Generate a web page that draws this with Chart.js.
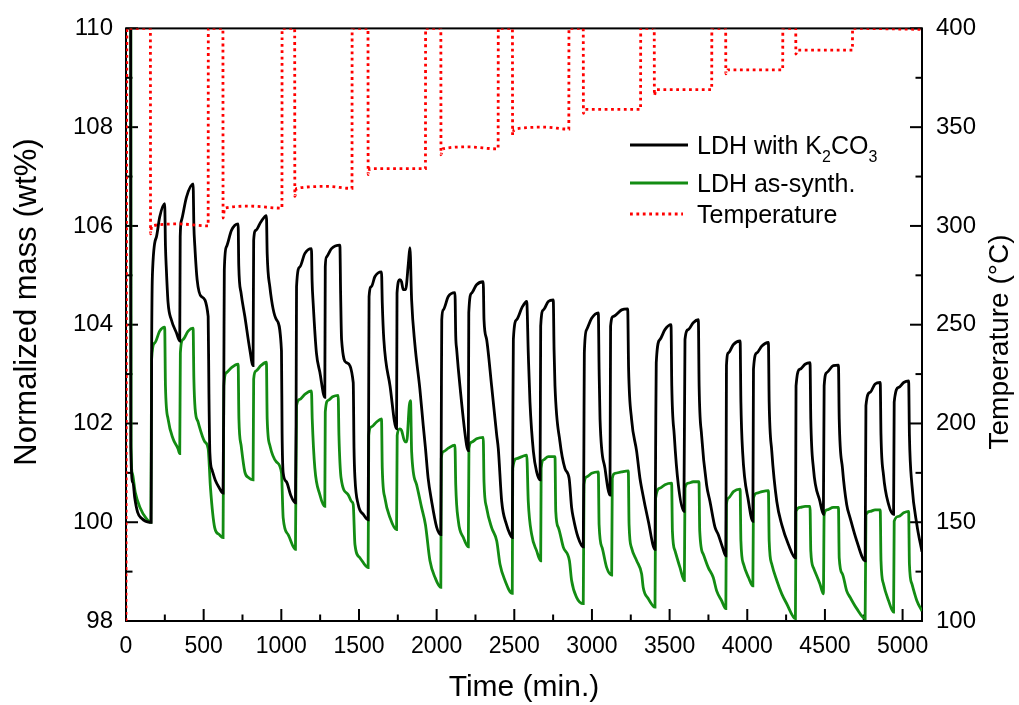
<!DOCTYPE html>
<html>
<head>
<meta charset="utf-8">
<title>LDH cycling - normalized mass and temperature</title>
<script src="https://cdn.jsdelivr.net/npm/chart.js@4.4.1/dist/chart.umd.min.js"></script>
<style>
  html, body { margin: 0; padding: 0; background: #fff; }
  canvas { display: block; }
</style>
</head>
<body>
<canvas id="tga" width="1019" height="705"></canvas>
<script>
// values: [time (min), value]
const k2co3Mass = [
  [30,112],[31,101.5],[45,100.8],[56,100.5],[75,100.2],[100,100.08],[150,100.0],[162,100.0],
  [165,103.4],[170,105.0],[196,105.78],[217,106.18],[249,106.45],
  [254,105.6],[260,105.11],[271,104.44],[292,104.10],[324,103.84],[346,103.67],
  [349,105.78],[357,106.11],[389,106.58],[432,106.85],
  [437,106.0],[443,105.6],[458,104.91],[485,104.57],[529,104.17],
  [534,102.6],[540,101.4],[555,101.05],[575,100.85],[600,100.7],[625,100.59],
  [630,103.0],[633,105.11],[647,105.58],[679,105.91],[722,106.04],
  [726,105.2],[741,104.64],[765,104.17],[797,103.50],[818,103.17],
  [822,105.71],[836,105.91],[868,106.08],[904,106.21],
  [909,105.44],[926,104.77],[969,104.10],[1001,103.47],
  [1005,101.8],[1012,101.0],[1033,100.82],[1060,100.55],[1091,100.39],
  [1095,102.0],[1098,104.77],[1119,105.17],[1151,105.44],[1194,105.54],
  [1198,104.9],[1205,104.44],[1226,103.43],[1248,103.04],[1280,102.53],
  [1283,105.17],[1291,105.37],[1323,105.54],[1377,105.61],
  [1382,104.6],[1388,103.70],[1420,103.23],[1463,102.83],
  [1468,101.5],[1474,100.9],[1495,100.36],[1530,100.15],[1559,100.05],
  [1562,102.0],[1565,104.57],[1580,104.77],[1602,104.97],[1645,105.07],
  [1650,104.44],[1660,103.70],[1700,102.76],[1742,101.89],
  [1745,104.64],[1763,104.91],[1774,104.87],[1785,104.71],[1800,104.71],[1818,105.24],[1828,105.56],
  [1839,104.5],[1860,103.6],[1892,102.7],[1914,101.95],[1928,101.5],[1945,100.9],[1968,100.42],[2000,99.9],[2027,99.75],
  [2030,102.0],[2033,104.10],[2043,104.30],[2075,104.57],[2118,104.65],
  [2123,103.77],[2129,103.5],[2150,102.76],[2193,101.56],[2204,101.45],
  [2207,104.24],[2225,104.64],[2257,104.81],[2300,104.87],
  [2305,104.1],[2322,103.7],[2354,102.76],[2387,101.76],[2397,101.49],[2419,100.42],[2450,99.95],[2472,99.76],[2487,99.69],
  [2490,101.5],[2494,103.70],[2515,104.10],[2550,104.35],[2580,104.47],
  [2590,103.43],[2601,102.43],[2623,101.43],[2644,101.02],[2666,100.86],
  [2670,103.97],[2687,104.30],[2719,104.47],[2751,104.50],
  [2756,103.5],[2762,102.76],[2794,101.63],[2826,101.09],[2853,100.89],[2869,100.3],[2880,100.09],[2910,99.7],[2944,99.5],
  [2948,101.5],[2951,103.43],[2966,103.90],[2998,104.13],[3041,104.24],
  [3046,103.10],[3052,102.09],[3084,101.09],[3116,100.55],
  [3120,103.97],[3138,104.17],[3191,104.30],[3230,104.32],
  [3236,103.10],[3255,102.09],[3288,101.43],[3309,100.89],[3320,100.69],[3363,100.02],[3406,99.45],
  [3410,101.5],[3414,103.23],[3438,103.70],[3470,103.90],[3509,104.00],
  [3514,102.76],[3530,101.76],[3556,100.76],[3592,100.22],
  [3599,103.70],[3620,103.90],[3652,104.04],[3685,104.10],
  [3690,102.76],[3706,101.76],[3738,100.76],[3760,100.42],[3792,99.9],[3813,99.75],[3840,99.5],[3862,99.32],
  [3866,103.17],[3879,103.43],[3911,103.60],[3954,103.67],
  [3959,102.43],[3970,101.43],[4008,100.42],[4036,100.02],
  [4040,103.10],[4062,103.43],[4094,103.57],[4136,103.64],
  [4141,102.43],[4158,101.43],[4190,100.42],[4222,99.95],[4265,99.55],[4310,99.28],
  [4314,102.76],[4340,103.10],[4372,103.20],[4404,103.23],
  [4409,102.09],[4426,101.09],[4468,100.42],[4490,100.16],
  [4495,102.76],[4512,103.03],[4554,103.17],[4587,103.18],
  [4592,102.09],[4613,101.09],[4640,100.36],[4662,100.09],[4705,99.62],[4759,99.22],
  [4764,102.36],[4790,102.63],[4823,102.80],[4856,102.83],
  [4861,101.76],[4877,100.96],[4910,100.36],[4942,100.16],
  [4946,102.43],[4975,102.73],[5007,102.83],[5039,102.86],
  [5044,101.76],[5060,100.76],[5092,99.95],[5125,99.4]
];

const asSynthMass = [
  [31,111],[33,101.6],[40,101.0],[60,100.6],[90,100.3],[130,100.08],[160,100.0],
  [165,103.3],[185,103.63],[217,103.87],[249,103.95],
  [254,102.76],[271,102.09],[303,101.69],[335,101.49],[346,101.39],
  [350,103.43],[367,103.70],[400,103.87],[432,103.93],
  [437,102.9],[445,102.3],[464,102.03],[507,101.63],[529,101.49],[544,100.69],[571,99.89],[600,99.75],[625,99.69],
  [630,102.76],[647,103.03],[679,103.13],[722,103.20],
  [727,102.09],[741,101.56],[765,101.02],[790,100.9],[818,100.86],
  [822,102.90],[836,103.06],[868,103.17],[904,103.24],
  [909,102.09],[926,101.56],[969,101.22],[1001,101.0],[1012,100.09],[1044,99.75],[1091,99.45],
  [1098,102.36],[1119,102.49],[1151,102.59],[1194,102.66],
  [1199,102.09],[1216,101.09],[1248,100.56],[1280,100.32],
  [1283,102.23],[1302,102.47],[1330,102.54],[1366,102.57],
  [1371,101.76],[1385,100.89],[1430,100.56],[1452,100.42],[1463,100.36],[1474,99.55],[1506,99.28],[1559,99.08],
  [1563,101.76],[1580,101.93],[1613,102.03],[1645,102.09],
  [1650,101.09],[1667,100.49],[1700,100.09],[1742,99.85],
  [1746,101.76],[1763,101.89],[1774,101.86],[1796,101.63],[1807,101.63],[1824,102.36],[1832,102.46],
  [1839,101.43],[1871,100.76],[1903,100.3],[1928,99.95],[1957,99.22],[1990,98.88],[2027,98.68],
  [2030,101.29],[2043,101.43],[2075,101.5],[2118,101.56],
  [2123,100.76],[2140,100.02],[2172,99.69],[2204,99.5],
  [2208,101.49],[2225,101.62],[2257,101.69],[2300,101.72],
  [2305,100.82],[2322,100.29],[2354,99.89],[2387,99.62],[2408,99.15],[2440,98.82],[2487,98.56],
  [2490,101.09],[2515,101.29],[2550,101.33],[2580,101.36],
  [2590,100.42],[2612,99.75],[2644,99.42],[2670,99.22],
  [2673,101.09],[2687,101.26],[2719,101.33],[2762,101.33],
  [2767,100.22],[2784,99.89],[2816,99.49],[2855,99.22],[2869,98.82],[2901,98.48],[2944,98.35],
  [2949,100.76],[2966,100.92],[2998,100.99],[3041,101.02],
  [3046,99.95],[3066,99.48],[3095,99.08],[3127,98.93],
  [3131,100.89],[3148,100.99],[3191,101.02],[3234,101.04],
  [3239,99.95],[3255,99.48],[3288,99.22],[3320,98.95],[3330,98.68],[3363,98.45],[3406,98.28],
  [3410,100.49],[3438,100.69],[3470,100.76],[3513,100.79],
  [3518,99.82],[3535,99.42],[3567,99.08],[3595,98.82],
  [3599,100.69],[3620,100.79],[3652,100.82],[3689,100.82],
  [3694,99.82],[3717,99.35],[3749,99.08],[3781,98.88],[3803,98.61],[3835,98.41],[3862,98.25],
  [3866,100.35],[3879,100.49],[3911,100.62],[3954,100.67],
  [3959,99.62],[3976,99.15],[4008,98.88],[4036,98.71],
  [4040,100.49],[4062,100.59],[4094,100.62],[4136,100.64],
  [4141,99.62],[4158,99.15],[4190,98.82],[4222,98.55],[4254,98.35],[4310,98.05],
  [4314,100.22],[4340,100.3],[4372,100.32],[4404,100.32],
  [4409,99.42],[4426,99.08],[4468,98.75],[4490,98.55],
  [4495,100.15],[4512,100.25],[4554,100.3],[4587,100.3],
  [4592,99.28],[4613,98.95],[4640,98.61],[4662,98.48],[4705,98.25],[4759,98.05],
  [4764,100.15],[4790,100.22],[4823,100.25],[4856,100.25],
  [4861,99.22],[4877,98.75],[4910,98.41],[4942,98.18],
  [4946,100.02],[4975,100.12],[5007,100.19],[5039,100.22],
  [5044,99.15],[5060,98.75],[5092,98.41],[5125,98.2]
];

const temperature = [
  [0,100],[6,400],[157,400],[158,296],[165,300],[340,301],[529,300],[530,400],
  [624,400],[625,304],[635,309],[800,310],[1004,309],[1005,400],
  [1086,400],[1087,315],[1097,319],[1300,320],[1455,319],[1456,400],
  [1558,400],[1559,326],[1569,329],[1928,329],[1929,400],
  [2027,400],[2028,336],[2038,339],[2200,340],[2396,339],[2397,400],
  [2488,400],[2489,346],[2499,349],[2700,350],[2851,349],[2852,400],
  [2944,400],[2945,357],[2955,359],[3313,359],[3314,400],
  [3401,400],[3402,366],[3412,369],[3771,369],[3772,400],
  [3861,400],[3862,377],[3872,379],[4228,379],[4229,400],
  [4312,400],[4313,387],[4323,389],[4677,389],[4678,400],[5125,399.5]
];

// axis tick labels
const timeTicks = [0, 500, 1000, 1500, 2000, 2500, 3000, 3500, 4000, 4500, 5000];
const massTicks = [98, 100, 102, 104, 106, 108, 110];
const tempTicks = [100, 150, 200, 250, 300, 350, 400];

const timeRange = { min: 0, max: 5125, minor: 250 };
const massRange = { min: 98, max: 110, minor: 1 };
const tempRange = { min: 100, max: 400, minor: 25 };

const GREEN = '#138c13';
const RED = '#ff0000';
const FONT = '"Liberation Sans", Arial, sans-serif';

const toXY = pts => pts.map(([x, y]) => ({ x, y }));
const setTicks = values => scale => { scale.ticks = values.map(value => ({ value })); };

// frame, inward ticks, titles and legend in the style of the original figure
const figurePlugin = {
  id: 'figure',
  beforeDatasetsDraw(chart) {
    const { ctx, chartArea: a, scales } = chart;
    ctx.save();
    ctx.strokeStyle = '#000';
    ctx.lineWidth = 2;
    ctx.strokeRect(a.left, a.top, a.right - a.left, a.bottom - a.top);
    const line = (x1, y1, x2, y2) => {
      ctx.beginPath(); ctx.moveTo(x1, y1); ctx.lineTo(x2, y2); ctx.stroke();
    };
    for (let v = timeRange.min; v <= timeRange.max; v += timeRange.minor) {
      const px = scales.x.getPixelForValue(v);
      line(px, a.bottom, px, a.bottom - (timeTicks.includes(v) ? 12 : 6.5));
    }
    for (let v = massRange.min; v <= massRange.max; v += massRange.minor) {
      const py = scales.y.getPixelForValue(v);
      line(a.left, py, a.left + (massTicks.includes(v) ? 12 : 6.5), py);
    }
    for (let v = tempRange.min; v <= tempRange.max; v += tempRange.minor) {
      const py = scales.y2.getPixelForValue(v);
      line(a.right, py, a.right - (tempTicks.includes(v) ? 12 : 6.5), py);
    }
    ctx.restore();
  },
  afterDraw(chart) {
    const { ctx, chartArea: a } = chart;
    ctx.save();
    ctx.fillStyle = '#000';
    ctx.textAlign = 'center';
    ctx.textBaseline = 'middle';
    ctx.font = `30px ${FONT}`;
    ctx.fillText('Time (min.)', (a.left + a.right) / 2, 688);
    [['Normalized mass (wt%)', 27, 302, 31], ['Temperature (\u00B0C)', 1000, 342, 28]].forEach(([txt, x, y, size]) => {
      ctx.save();
      ctx.font = `${size}px ${FONT}`;
      ctx.translate(x, y);
      ctx.rotate(-Math.PI / 2);
      ctx.fillText(txt, 0, 0);
      ctx.restore();
    });

    // legend
    const rows = [
      { color: '#000', dash: [], y: 145, end: 688, parts: [['LDH with K', 0], ['2', 1], ['CO', 0], ['3', 1]] },
      { color: GREEN, dash: [], y: 183, end: 688, parts: [['LDH as-synth.', 0]] },
      { color: RED, dash: [2.8, 3.6], y: 214, end: 683, parts: [['Temperature', 0]] }
    ];
    ctx.textAlign = 'left';
    ctx.textBaseline = 'alphabetic';
    rows.forEach(r => {
      ctx.strokeStyle = r.color;
      ctx.lineWidth = 2.8;
      ctx.setLineDash(r.dash);
      ctx.beginPath(); ctx.moveTo(630, r.y); ctx.lineTo(r.end, r.y); ctx.stroke();
      ctx.setLineDash([]);
      let x = 697;
      r.parts.forEach(([txt, sub]) => {
        ctx.font = sub ? `16px ${FONT}` : `25px ${FONT}`;
        ctx.fillText(txt, x, r.y + (sub ? 16.5 : 9));
        x += ctx.measureText(txt).width;
      });
    });
    ctx.restore();
  }
};

const tickFont = size => ({ family: FONT, size });

new Chart(document.getElementById('tga'), {
  type: 'line',
  data: {
    datasets: [
      {
        label: 'LDH with K2CO3',
        data: toXY(k2co3Mass),
        yAxisID: 'y',
        borderColor: '#000',
        borderWidth: 2.8,
        order: 1
      },
      {
        label: 'LDH as-synth.',
        data: toXY(asSynthMass),
        yAxisID: 'y',
        borderColor: GREEN,
        borderWidth: 2.8,
        order: 2
      },
      {
        label: 'Temperature',
        data: toXY(temperature),
        yAxisID: 'y2',
        borderColor: RED,
        borderWidth: 2.8,
        borderDash: [2.8, 3.6],
        order: 0
      }
    ]
  },
  options: {
    responsive: false,
    animation: false,
    devicePixelRatio: 1,
    elements: {
      point: { radius: 0 },
      line: { fill: false, cubicInterpolationMode: 'monotone' }
    },
    layout: { padding: { top: 24, left: 0, right: 0, bottom: 0 } },
    plugins: {
      legend: { display: false },
      tooltip: { enabled: false }
    },
    scales: {
      x: {
        type: 'linear',
        min: timeRange.min,
        max: timeRange.max,
        grid: { display: false, drawTicks: false },
        border: { display: false },
        afterBuildTicks: setTicks(timeTicks),
        ticks: {
          maxRotation: 0,
          autoSkip: false,
          padding: 12,
          color: '#000',
          font: tickFont(23),
          callback: v => String(v)
        },
        afterFit: s => { s.height = 84; }
      },
      y: {
        position: 'left',
        min: massRange.min,
        max: massRange.max,
        grid: { display: false, drawTicks: false },
        border: { display: false },
        afterBuildTicks: setTicks(massTicks),
        ticks: {
          padding: 13,
          color: '#000',
          font: tickFont(24),
          callback: v => String(v)
        },
        afterFit: s => { s.width = 126; }
      },
      y2: {
        position: 'right',
        min: tempRange.min,
        max: tempRange.max,
        grid: { display: false, drawTicks: false },
        border: { display: false },
        afterBuildTicks: setTicks(tempTicks),
        ticks: {
          padding: 14,
          color: '#000',
          font: tickFont(24),
          callback: v => String(v)
        },
        afterFit: s => { s.width = 97; }
      }
    }
  },
  plugins: [figurePlugin]
});
</script>
</body>
</html>
